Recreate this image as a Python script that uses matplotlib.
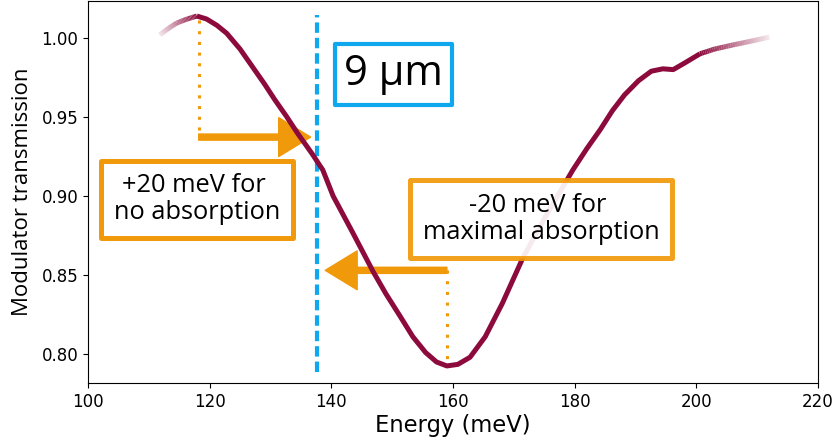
import numpy as np
import matplotlib
matplotlib.use("Agg")
import matplotlib.pyplot as plt
from matplotlib.collections import LineCollection

# curve (energy in meV, transmission)
energy = [111.8, 113.2, 114.6, 116.3, 117.9, 119.5, 121.2, 122.8, 125.0, 127.0,
          129.0, 130.7, 132.7, 134.4, 136.8, 138.6, 140.3, 143.5, 146.9, 149.0,
          151.3, 153.4, 155.5, 157.3, 159.0, 160.8, 162.8, 165.3, 168.1, 171.5,
          175.5, 179.7, 182.0, 184.2, 186.2, 188.2, 190.5, 192.6, 194.5, 196.2,
          198.0, 200.6, 203.0, 206.0, 209.0, 212.0]
transmission = [1.002, 1.006, 1.0095, 1.012, 1.0139, 1.012, 1.008, 1.003, 0.993, 0.982,
                0.971, 0.961, 0.950, 0.940, 0.927, 0.9165, 0.900, 0.877, 0.852, 0.838,
                0.824, 0.811, 0.801, 0.795, 0.7925, 0.7935, 0.798, 0.811, 0.832, 0.861,
                0.889, 0.9165, 0.930, 0.942, 0.954, 0.964, 0.973, 0.979, 0.9805, 0.980,
                0.984, 0.990, 0.993, 0.9956, 0.998, 1.0006]

target_energy = 137.6          # 9 um line
peak_energy, peak_T = 118.2, 1.0135
dip_energy, dip_T = 159.0, 0.7925
arrow1_T = 0.9373
arrow2_T = 0.853
label_up = "+20 meV for \nno absorption"
label_down = "-20 meV for \nmaximal absorption"
label_wl = "9 μm"

curve_color = "#8c0a3c"
orange = "#f0990a"
blue = "#0fa8ef"

fig = plt.figure(figsize=(8.37, 4.43), dpi=100)
ax = fig.add_axes([0.1051, 0.1354, 0.8722, 0.8623])

# solid middle part of the curve
fade_lo, fade_hi = 117.9, 200.6
i_lo, i_hi = energy.index(fade_lo), energy.index(fade_hi)
ax.plot(energy[i_lo:i_hi + 1], transmission[i_lo:i_hi + 1], color=curve_color,
        lw=3.6, solid_joinstyle="round", solid_capstyle="butt", zorder=5)

# faded ends: short pieces along the drawn segments only to carry the alpha ramp
segs, cols = [], []
rgb = matplotlib.colors.to_rgb(curve_color)
for i in list(range(0, i_lo)) + list(range(i_hi, len(energy) - 1)):
    x0, x1 = energy[i], energy[i + 1]
    y0, y1 = transmission[i], transmission[i + 1]
    n = 8
    for k in range(n):
        xa, xb = x0 + (x1 - x0) * k / n, x0 + (x1 - x0) * (k + 1) / n
        ya, yb = y0 + (y1 - y0) * k / n, y0 + (y1 - y0) * (k + 1) / n
        xm = 0.5 * (xa + xb)
        if xm < fade_lo:
            a = 0.1 + 0.9 * (xm - energy[0]) / (fade_lo - energy[0])
        else:
            a = 1.0 - 0.92 * (xm - fade_hi) / (energy[-1] - fade_hi)
        segs.append([(xa, ya), (xb, yb)])
        cols.append((*rgb, a))
ax.add_collection(LineCollection(segs, colors=cols, linewidths=3.6, capstyle="butt", zorder=5))

# 9 um marker
ax.vlines(target_energy, 0.7886, 1.0146, colors=blue, linewidth=3,
          linestyles=(0, (2.5, 1.2)), zorder=2)

# dotted drop lines
ax.plot([peak_energy, peak_energy], [peak_T - 0.002, arrow1_T + 0.004], color=orange,
        lw=2.2, ls=(0, (1, 2.5)), zorder=2)
ax.plot([dip_energy, dip_energy], [arrow2_T, dip_T + 0.001], color=orange,
        lw=2.2, ls=(0, (1, 2.5)), zorder=2)

arrow_kw = dict(arrowstyle="simple,head_length=1.15,head_width=1.4,tail_width=0.22",
                color=orange, shrinkA=0, shrinkB=0, mutation_scale=20)
ax.annotate("", xy=(136.6, arrow1_T), xytext=(peak_energy, arrow1_T),
            arrowprops=arrow_kw, zorder=4)
ax.annotate("", xy=(139.0, arrow2_T), xytext=(dip_energy, arrow2_T),
            arrowprops=arrow_kw, zorder=4)

# text boxes
ax.text(117.9, 0.898, label_up, fontsize=18.3, family="Open Sans", ha="center", va="center",
        multialignment="center", zorder=6, linespacing=1.1,
        bbox=dict(boxstyle="square,pad=0.5", fc="white", ec=orange, lw=3.6, joinstyle="round"))
ax.text(174.5, 0.8855, label_down, fontsize=18.3, family="Open Sans", ha="center", va="center",
        multialignment="center", zorder=6, linespacing=1.1,
        bbox=dict(boxstyle="square,pad=0.5", fc="white", ec=orange, lw=3.6, alpha=0.92,
                  joinstyle="round"))
ax.text(150.2, 0.977, label_wl, fontsize=30, family="Open Sans", ha="center", va="center",
        zorder=6,
        bbox=dict(boxstyle="square,pad=0.22", fc="white", ec=blue, lw=3, joinstyle="round"))

ax.set_xlim(100, 220)
ax.set_ylim(0.7817, 1.0234)
ax.set_xticks([100, 120, 140, 160, 180, 200, 220])
ax.set_yticks([0.80, 0.85, 0.90, 0.95, 1.00])
ax.tick_params(labelsize=12)
ax.set_xlabel("Energy (meV)", fontsize=16.3, labelpad=2)
ax.set_ylabel("Modulator transmission", fontsize=16, family="Open Sans", labelpad=6)

fig.savefig("out.png", dpi=100)
